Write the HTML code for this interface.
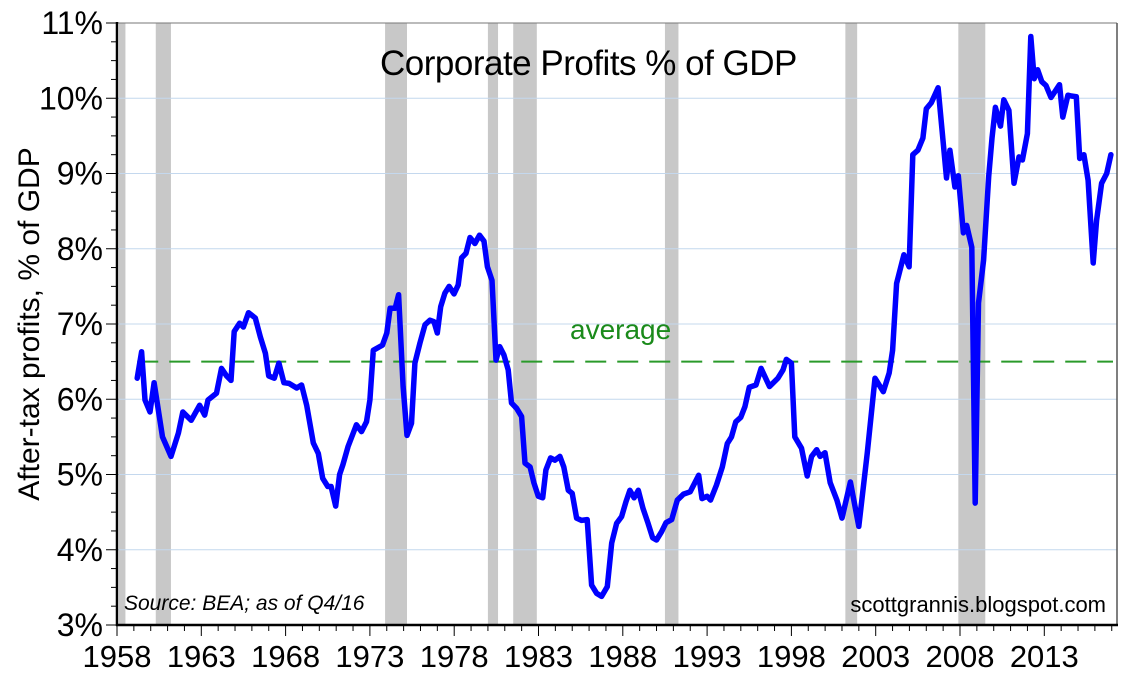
<!DOCTYPE html>
<html><head><meta charset="utf-8"><style>
html,body{margin:0;padding:0;background:#fff;}
svg{display:block;font-family:"Liberation Sans",sans-serif;}
</style></head><body>
<svg id="chart" width="1136" height="678" viewBox="0 0 1136 678"></svg>
<script>
const years = [1959.2,1959.46,1959.66,1959.96,1960.2,1960.45,1960.7,1961.2,1961.64,1961.9,1962.4,1962.9,1963.2,1963.4,1963.9,1964.2,1964.5,1964.76,1964.95,1965.27,1965.5,1965.8,1966.2,1966.5,1966.8,1967.0,1967.33,1967.6,1967.9,1968.2,1968.66,1968.95,1969.25,1969.64,1969.94,1970.2,1970.5,1970.7,1970.97,1971.2,1971.4,1971.7,1972.2,1972.5,1972.8,1973.0,1973.2,1973.75,1974.0,1974.2,1974.5,1974.7,1974.97,1975.2,1975.47,1975.67,1975.97,1976.27,1976.56,1976.8,1977.0,1977.2,1977.45,1977.7,1977.99,1978.24,1978.44,1978.7,1978.94,1979.23,1979.5,1979.77,1979.97,1980.24,1980.48,1980.7,1980.95,1981.2,1981.4,1981.7,1982.0,1982.2,1982.5,1982.73,1982.99,1983.25,1983.44,1983.72,1983.97,1984.27,1984.5,1984.77,1985.0,1985.26,1985.55,1985.89,1986.15,1986.45,1986.74,1987.08,1987.34,1987.63,1987.93,1988.19,1988.42,1988.67,1988.92,1989.2,1989.5,1989.77,1990.0,1990.3,1990.56,1990.9,1991.23,1991.6,1992.0,1992.5,1992.7,1993.0,1993.2,1993.56,1993.9,1994.2,1994.45,1994.7,1995.0,1995.24,1995.5,1995.9,1996.2,1996.7,1997.2,1997.5,1997.7,1998.0,1998.2,1998.6,1998.94,1999.2,1999.5,1999.7,1999.99,2000.3,2000.7,2001.0,2001.5,2002.0,2002.5,2002.96,2003.45,2003.8,2004.0,2004.24,2004.67,2004.98,2005.2,2005.5,2005.8,2006.0,2006.3,2006.7,2007.2,2007.4,2007.7,2007.9,2008.2,2008.4,2008.7,2008.9,2009.1,2009.4,2009.7,2009.9,2010.1,2010.4,2010.6,2010.9,2011.2,2011.5,2011.7,2012.0,2012.2,2012.4,2012.6,2012.85,2013.1,2013.4,2013.9,2014.1,2014.4,2014.6,2014.9,2015.1,2015.35,2015.6,2015.9,2016.1,2016.4,2016.7,2016.95];
const profits = [6.28,6.63,5.99,5.83,6.22,5.86,5.5,5.24,5.55,5.83,5.72,5.92,5.79,5.99,6.08,6.41,6.31,6.25,6.9,7.01,6.96,7.15,7.08,6.83,6.61,6.31,6.28,6.48,6.22,6.21,6.15,6.19,5.92,5.42,5.28,4.95,4.84,4.84,4.58,5.0,5.13,5.37,5.66,5.57,5.7,5.99,6.65,6.72,6.88,7.21,7.21,7.39,6.17,5.52,5.68,6.48,6.75,6.99,7.05,7.03,6.88,7.23,7.41,7.5,7.4,7.52,7.88,7.94,8.15,8.07,8.18,8.1,7.76,7.58,6.52,6.7,6.59,6.39,5.95,5.88,5.77,5.15,5.1,4.89,4.71,4.69,5.06,5.22,5.19,5.24,5.1,4.79,4.75,4.42,4.39,4.4,3.53,3.42,3.38,3.51,4.09,4.35,4.44,4.64,4.79,4.69,4.79,4.55,4.35,4.16,4.13,4.24,4.36,4.4,4.66,4.74,4.77,4.99,4.68,4.71,4.66,4.86,5.1,5.41,5.5,5.7,5.76,5.9,6.16,6.19,6.41,6.17,6.28,6.39,6.53,6.48,5.5,5.35,4.98,5.24,5.33,5.24,5.29,4.89,4.66,4.42,4.9,4.31,5.29,6.28,6.1,6.35,6.65,7.54,7.92,7.76,9.25,9.31,9.47,9.86,9.94,10.14,8.94,9.31,8.82,8.97,8.21,8.31,8.02,4.62,7.28,7.85,8.96,9.47,9.88,9.63,9.98,9.84,8.87,9.22,9.18,9.53,10.82,10.26,10.38,10.22,10.17,10.01,10.18,9.75,10.04,10.03,10.02,9.2,9.25,8.91,7.81,8.38,8.87,9.0,9.25];
const recessionStart = [1957.6,1960.3,1973.9,1980.0,1981.5,1990.5,2001.2,2007.9];
const recessionEnd   = [1958.5,1961.2,1975.2,1980.6,1982.9,1991.3,2001.9,2009.5];
const xTickYears = [1958,1963,1968,1973,1978,1983,1988,1993,1998,2003,2008,2013];
const yTickValues = [3,4,5,6,7,8,9,10,11];
const averageValue = 6.5;

const L=117,R=1117,T=23,B=625;
const X0=1958,PX=16.86;
const x = yr => L + (yr - X0) * PX;
const y = v => B - (v - 3) * (B - T) / 8;
const NS="http://www.w3.org/2000/svg";
const svg=document.getElementById('chart');
function mk(tag, attrs, parent){const e=document.createElementNS(NS,tag);for(const k in attrs)e.setAttribute(k,attrs[k]);(parent||svg).appendChild(e);return e;}

recessionStart.forEach((s,i)=>{
  const x1=Math.max(L+2,x(s)), x2=x(recessionEnd[i]);
  const r=mk('rect',{x:x1,y:T,width:x2-x1,height:B-T,fill:'#c8c8c8'});
  
  
});
yTickValues.forEach(v=>{
  if(v>3&&v<11){const g=mk('line',{x1:L,x2:R,y1:y(v),y2:y(v),stroke:'#c4d8ee','stroke-width':1});
  
  }
});
const avg=mk('line',{x1:x(1959.2),x2:R-4,y1:y(averageValue),y2:y(averageValue),stroke:'#2a9a2a','stroke-width':2,'stroke-dasharray':'21,11'});


let d='';years.forEach((yr,i)=>{d+=(i?'L':'M')+x(yr).toFixed(1)+','+y(profits[i]).toFixed(1);});
const line=mk('path',{d:d,fill:'none',stroke:'#0000ff','stroke-width':5.5,'stroke-linejoin':'round','stroke-linecap':'round'});


mk('line',{x1:L,x2:R,y1:T,y2:T,stroke:'#777','stroke-width':1});
mk('line',{x1:R,x2:R,y1:T,y2:B,stroke:'#555','stroke-width':1.5});
mk('line',{x1:L,x2:L,y1:T-1,y2:B+1,stroke:'#000','stroke-width':2.5});
mk('line',{x1:L-1,x2:R+1,y1:B,y2:B,stroke:'#000','stroke-width':2.5});
for(let v=3;v<=11.001;v+=0.25){
  const maj=Math.abs(v-Math.round(v))<0.01;
  mk('line',{x1:L-(maj?11:6),x2:L,y1:y(v),y2:y(v),stroke:'#000','stroke-width':1});
}
yTickValues.forEach(v=>{
  const t=mk('text',{x:L-14,y:y(v)+11,'text-anchor':'end','font-size':32,fill:'#000'});
  t.textContent=v+'%';
  
  
});
for(let yr=1958;yr<=2017;yr++){
  const maj=(yr-1958)%5===0;
  mk('line',{x1:x(yr),x2:x(yr),y1:B,y2:B+(maj?11:6),stroke:'#000','stroke-width':1});
}
xTickYears.forEach(yr=>{
  const t=mk('text',{x:x(yr),y:B+42,'text-anchor':'middle','font-size':31,fill:'#000'});
  t.textContent=yr;
  
  
});
</script>
<div style="position:absolute;left:0;top:0;width:1136px;height:678px;pointer-events:none;font-family:'Liberation Sans',sans-serif;">
  <div style="position:absolute;left:380px;top:44px;font-size:35px;color:#000;white-space:nowrap;letter-spacing:-0.5px;">Corporate Profits % of GDP</div>
  <div style="position:absolute;left:570px;top:314px;font-size:28px;color:#1a8a1a;">average</div>
  <div style="position:absolute;left:30px;top:324px;font-size:30px;color:#000;white-space:nowrap;transform:translate(-50%,-50%) rotate(-90deg);">After-tax profits, % of GDP</div>
  <div style="position:absolute;left:124px;top:592px;font-size:21px;font-style:italic;color:#000;white-space:nowrap;">Source: BEA; as of Q4/16</div>
  <div style="position:absolute;right:30px;top:592px;font-size:22px;color:#000;white-space:nowrap;">scottgrannis.blogspot.com</div>
</div>
</body></html>
